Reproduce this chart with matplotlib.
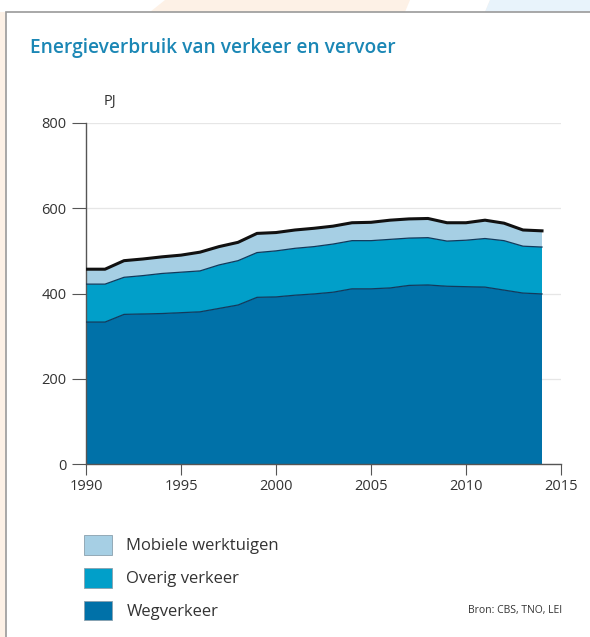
import matplotlib
matplotlib.use("Agg")
import matplotlib.pyplot as plt
from matplotlib.patches import Patch, Rectangle, Polygon

plt.rcParams['font.family'] = ['Open Sans', 'DejaVu Sans']

# Data (PJ)
years = list(range(1990, 2015))
weg = [333, 333, 351, 352, 353, 355, 357, 365, 373, 391, 392, 396, 399,
       403, 411, 411, 413, 419, 420, 417, 416, 415, 408, 401, 399]
overig_cum = [422, 422, 438, 442, 447, 450, 453, 467, 477, 496, 500, 506, 510,
              516, 524, 524, 527, 530, 531, 523, 525, 529, 524, 511, 509]
totaal = [457, 457, 477, 481, 486, 490, 497, 510, 520, 541, 543, 549, 553,
          558, 566, 567, 572, 575, 576, 566, 566, 572, 565, 549, 547]

overig = [o - w for o, w in zip(overig_cum, weg)]
mobiel = [t - o for t, o in zip(totaal, overig_cum)]

labels = ['Wegverkeer', 'Overig verkeer', 'Mobiele werktuigen']
colors = ['#0071a8', '#019fc9', '#a6cfe4']
xticks = [1990, 1995, 2000, 2005, 2010, 2015]
yticks = [0, 200, 400, 600, 800]

W, H = 590, 637
fig = plt.figure(figsize=(W / 100, H / 100), dpi=100)


def fx(px):
    return px / W


def fy(py):
    return 1 - py / H


# page background bits
fig.patches.append(Rectangle((0, 0), 1, 1, transform=fig.transFigure,
                             facecolor='#fdf1e6', edgecolor='none', zorder=-5))
fig.patches.append(Polygon([(fx(0), fy(0)), (fx(165), fy(0)), (fx(150), fy(12)), (fx(0), fy(12))],
                           closed=True, transform=fig.transFigure,
                           facecolor='#ffffff', edgecolor='none', zorder=-4))
fig.patches.append(Polygon([(fx(410), fy(0)), (fx(490), fy(0)), (fx(485), fy(12)), (fx(405), fy(12))],
                           closed=True, transform=fig.transFigure,
                           facecolor='#ffffff', edgecolor='none', zorder=-4))
fig.patches.append(Polygon([(fx(490), fy(0)), (fx(590), fy(0)), (fx(590), fy(12)), (fx(485), fy(12))],
                           closed=True, transform=fig.transFigure,
                           facecolor='#e8f3fb', edgecolor='none', zorder=-4))
fig.patches.append(Rectangle((fx(5.5), -0.1), 1.2, fy(11.5) + 0.1, transform=fig.transFigure,
                             facecolor='white', edgecolor='#9a9a9a', linewidth=1.2, zorder=-3))

ax = fig.add_axes([fx(86), fy(464), fx(561) - fx(86), fy(123) - fy(464)])
ax.set_facecolor('none')

ax.stackplot(years, weg, overig, mobiel, colors=colors, linewidth=0, zorder=2)
ax.plot(years, weg, color='#123a5c', lw=0.9, zorder=3)
ax.plot(years, overig_cum, color='#123a5c', lw=0.9, zorder=3)
ax.plot(years, totaal, color='#111111', lw=2.2, zorder=3)

ax.set_xlim(1990, 2015)
ax.set_ylim(0, 800)
ax.set_xticks(xticks)
ax.set_yticks(yticks)
ax.grid(axis='y', color='#e6e6e6', lw=0.9, zorder=0)
ax.set_axisbelow(True)

for s in ['top', 'right']:
    ax.spines[s].set_visible(False)
for s in ['left', 'bottom']:
    ax.spines[s].set_color('#555555')
    ax.spines[s].set_linewidth(1.0)
ax.tick_params(axis='x', length=8, color='#555555', labelsize=10.5, labelcolor='#333333', pad=3)
ax.tick_params(axis='y', length=10, color='#555555', labelsize=10.5, labelcolor='#333333', pad=4)
ax.spines['bottom'].set_zorder(4)

fig.text(fx(30), fy(48), 'Energieverbruik van verkeer en vervoer', color='#1b87b5',
         fontsize=13.8, fontweight='semibold', va='center', ha='left')
fig.text(fx(104), fy(102), 'PJ', color='#333333', fontsize=10.5, va='center', ha='left')

handles = [Patch(facecolor=c, edgecolor='#8aa0ad', linewidth=0.6) for c in colors]
fig.legend(handles[::-1], labels[::-1], loc='upper left', bbox_to_anchor=(fx(69), fy(520)),
           frameon=False, fontsize=12, handlelength=1.7, handleheight=1.45,
           labelspacing=0.78, handletextpad=0.85, labelcolor='#333333')

fig.text(fx(562), fy(611), 'Bron: CBS, TNO, LEI', color='#333333', fontsize=7.5,
         va='center', ha='right')

fig.savefig('out.png', dpi=100)
